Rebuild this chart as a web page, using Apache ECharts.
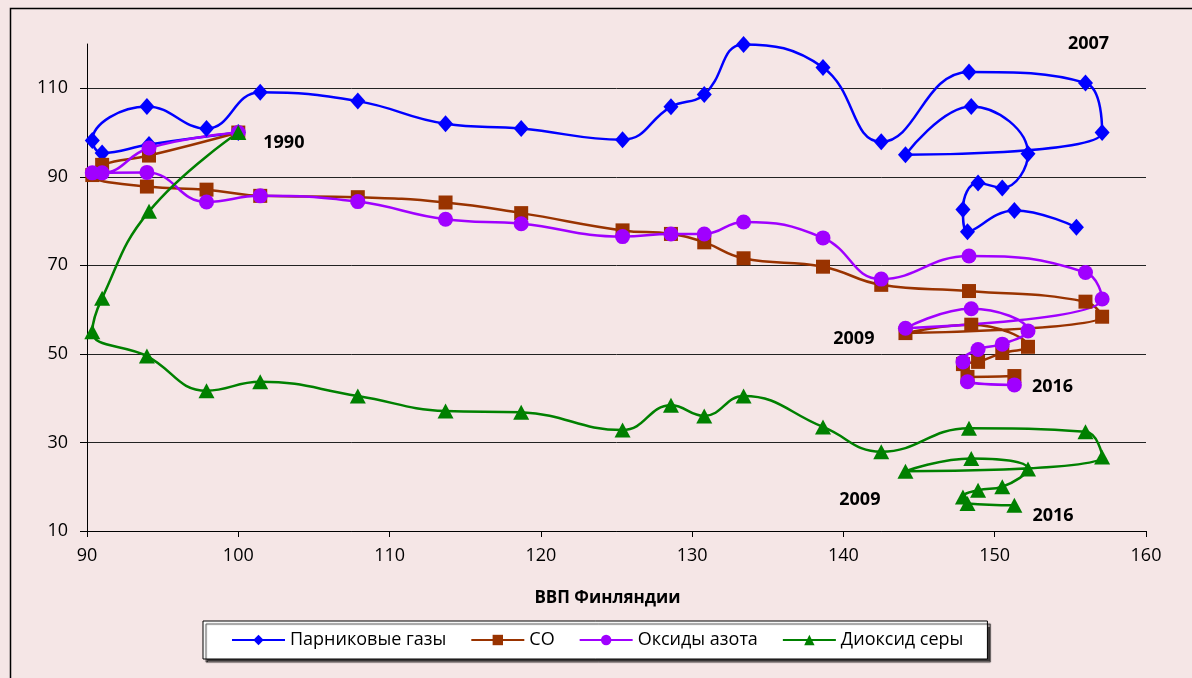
<!DOCTYPE html>
<html>
<head>
    <meta charset="utf-8">
    <title>ВВП Финляндии и выбросы</title>
    <script src="https://cdn.jsdelivr.net/npm/echarts@6/dist/echarts.min.js"></script>
    <style>
        html, body { margin: 0; padding: 0; background: #F5E6E6; }
        #main { width: 1192px; height: 678px; }
    </style>
</head>
<body>
    <div id="main"></div>
    <script type="text/javascript">
        // годы наблюдений (парниковые газы до 2017, остальные до 2016)
        var years = [1990, 1991, 1992, 1993, 1994, 1995, 1996, 1997, 1998, 1999,
                     2000, 2001, 2002, 2003, 2004, 2005, 2006, 2007, 2008, 2009,
                     2010, 2011, 2012, 2013, 2014, 2015, 2016, 2017];
        // ВВП Финляндии, 1990 = 100
        var gdp = [100, 94.1, 91.0, 90.35, 93.96, 97.9, 101.45, 107.9, 113.7, 118.7,
                   125.4, 128.6, 130.8, 133.4, 138.65, 142.5, 148.3, 156.0, 157.1, 144.1,
                   148.45, 152.2, 150.5, 148.9, 147.9, 148.2, 151.3, 155.4];
        var ghg = [100, 97.3, 95.4, 98.2, 105.9, 100.9, 109.1, 107.1, 102.0, 100.9,
                   98.4, 105.8, 108.6, 119.9, 114.7, 97.9, 113.7, 111.2, 100.0, 95.0,
                   105.9, 95.2, 87.5, 88.6, 82.6, 77.6, 82.4, 78.6];
        var co = [100, 94.8, 92.7, 90.4, 87.8, 87.1, 85.7, 85.4, 84.2, 81.8,
                  77.9, 77.1, 75.2, 71.6, 69.7, 65.6, 64.2, 61.8, 58.4, 54.7,
                  56.6, 51.6, 50.2, 48.2, 47.7, 44.8, 45.0];
        var nox = [100, 96.5, 90.9, 90.9, 91.0, 84.3, 85.7, 84.4, 80.4, 79.4,
                   76.5, 77.1, 77.1, 79.8, 76.2, 66.9, 72.1, 68.4, 62.4, 55.8,
                   60.2, 55.2, 52.2, 51.0, 48.2, 43.7, 43.0];
        var so2 = [100, 82.2, 62.6, 55.0, 49.5, 41.7, 43.7, 40.5, 37.1, 36.8,
                   32.8, 38.4, 36.0, 40.5, 33.5, 27.9, 33.2, 32.4, 26.7, 23.5,
                   26.4, 24.0, 20.0, 19.2, 17.7, 16.2, 15.8];
        var names = ['Парниковые газы', 'CO', 'Оксиды азота', 'Диоксид серы'];
        var yTicks = [10, 30, 50, 70, 90, 110];

        var font = 'Open Sans';

        function yearLabel(pos, dist, off) {
            return {
                show: true, position: pos, distance: dist, offset: off,
                fontFamily: font, fontSize: 18, fontWeight: 'bold', color: '#000',
                formatter: function (p) { return String(p.value[2]); }
            };
        }

        // точки [ВВП, значение, год], подписи годов только у отдельных точек
        function pairs(vals, labels) {
            return vals.map(function (v, i) {
                var item = { value: [gdp[i], v, years[i]] };
                if (labels && labels[years[i]]) item.label = labels[years[i]];
                return item;
            });
        }

        function mkSeries(name, vals, color, symbol, size, labels) {
            return {
                name: name,
                type: 'line',
                data: pairs(vals, labels),
                smooth: 0.45,
                clip: false,
                symbol: symbol,
                symbolSize: size,
                showAllSymbol: true,
                color: color,
                lineStyle: { color: color, width: 2.5 },
                itemStyle: { color: color },
                emphasis: { disabled: true },
                z: 3
            };
        }

        var myChart = echarts.init(document.getElementById('main'));

        var option = {
            backgroundColor: '#F5E6E6',
            animation: false,
            graphic: [{
                type: 'rect', left: 8, top: 6,
                shape: { width: 1300, height: 800 },
                style: { fill: 'none', stroke: '#000', lineWidth: 1.5 },
                silent: true
            }],
            grid: { left: 87, right: 46, top: 44, bottom: 147 },
            legend: {
                data: names,
                left: 203, top: 621,
                padding: [10, 24, 10, 28],
                itemGap: 24,
                itemWidth: 53,
                itemHeight: 13,
                backgroundColor: '#fff',
                borderColor: '#000',
                borderWidth: 1,
                borderRadius: 0,
                shadowColor: 'rgba(0,0,0,0.75)',
                shadowBlur: 1,
                shadowOffsetX: 3,
                shadowOffsetY: 3,
                textStyle: { fontFamily: font, fontSize: 18, color: '#000' }
            },
            xAxis: {
                type: 'value',
                min: 90, max: 160, interval: 10,
                name: 'ВВП Финляндии',
                nameLocation: 'middle',
                nameGap: 59,
                nameTextStyle: { fontFamily: font, fontSize: 17, fontWeight: 'bold', color: '#000', padding: [0, 18, 0, 0] },
                axisLine: { lineStyle: { color: '#000', width: 1 } },
                axisTick: { show: true, inside: false, length: 6, lineStyle: { color: '#000' } },
                axisLabel: { margin: 16, fontFamily: font, fontSize: 18, color: '#000' },
                splitLine: { show: false }
            },
            yAxis: {
                type: 'value',
                min: 10, max: 120, interval: 20,
                axisLine: { show: true, lineStyle: { color: '#000', width: 1 } },
                axisTick: { show: true, inside: false, length: 7, lineStyle: { color: '#000' } },
                axisLabel: {
                    margin: 19, fontFamily: font, fontSize: 18, color: '#000',
                    showMaxLabel: false,
                    formatter: function (v) { return yTicks.indexOf(v) >= 0 ? String(v) : ''; }
                },
                splitLine: { show: true, showMaxLine: false, lineStyle: { color: '#222', width: 1 } }
            },
            series: [
                mkSeries(names[0], ghg, '#0000FF', 'diamond', [15, 17], {
                    2007: yearLabel('top', 22, [3, 0])
                }),
                mkSeries(names[1], co, '#993300', 'rect', 14, {
                    2009: yearLabel('left', 24, [0, 6])
                }),
                mkSeries(names[2], nox, '#A000FF', 'circle', 15, {
                    2016: yearLabel('right', 10, [0, 2])
                }),
                mkSeries(names[3], so2, '#008000', 'triangle', [16, 15], {
                    1990: yearLabel('right', 17, [0, 10]),
                    2009: yearLabel('left', 17, [0, 29]),
                    2016: yearLabel('right', 10, [0, 11])
                })
            ]
        };

        myChart.setOption(option);
    </script>
</body>
</html>
